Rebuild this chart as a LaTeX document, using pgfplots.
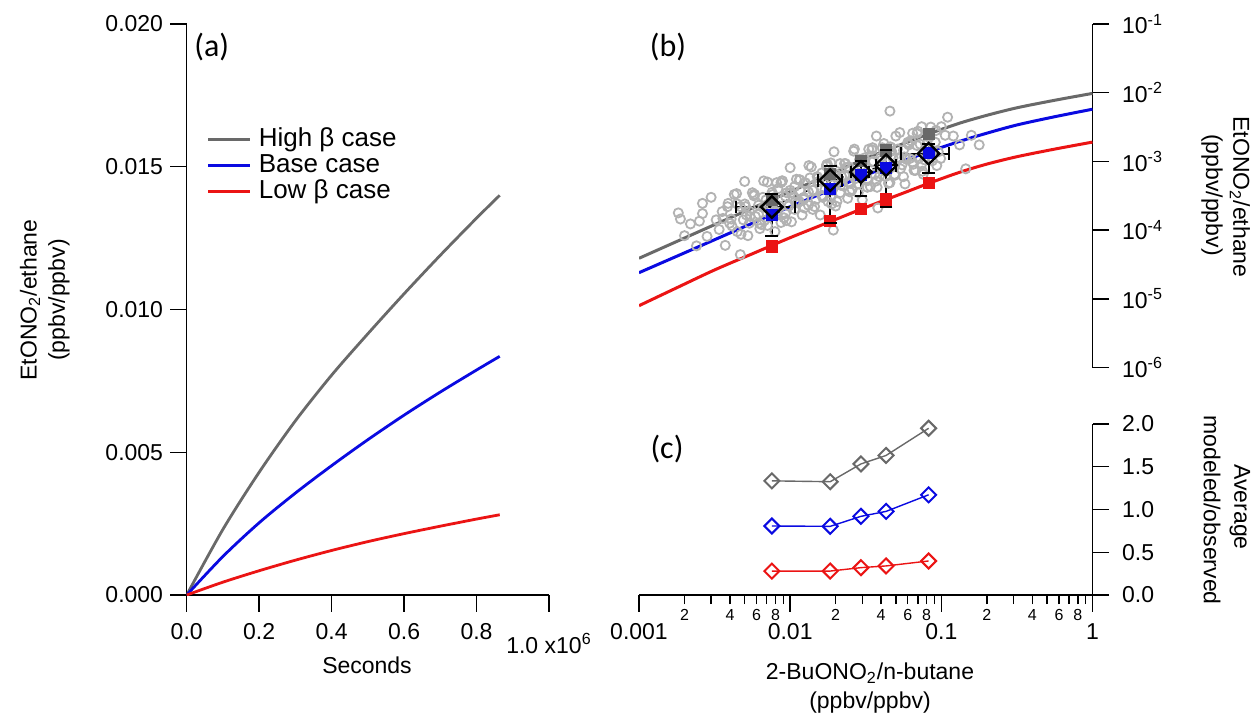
\documentclass[border=0pt]{standalone}
\usepackage{pgfplots}
\pgfplotsset{compat=1.18}
\usepackage{fontspec}
\setmainfont{Liberation Sans}
\newfontfamily\calib{Carlito}
\definecolor{cgray}{RGB}{105,105,105}
\definecolor{cblue}{RGB}{10,10,225}
\definecolor{cred}{RGB}{235,20,20}
\definecolor{cscat}{RGB}{178,178,178}
\pgfplotsset{
  every axis/.append style={
    scale only axis,
    font=\fontsize{11.5}{14}\selectfont,
    tick align=outside,
    major tick length=8.3pt,
    minor tick length=4.5pt,
    tick style={black, line width=0.7pt},
    axis line style={-, black, line width=0.7pt},
    tick label style={font=\fontsize{11.5}{14}\selectfont},
    scaled x ticks=false, scaled y ticks=false,
  }
}
\tikzset{lab/.style={font=\fontsize{11.5}{14}\selectfont}}
\begin{document}
\begin{tikzpicture}
\useasboundingbox (0,0) rectangle (626pt,359.5pt);
% ---------------- panel (a)
\begin{axis}[
  at={(93.35pt,62pt)}, anchor=south west,
  width=181.15pt, height=285.5pt,
  xmin=0, xmax=1, ymin=0, ymax=0.02,
  axis x line*=bottom, axis y line*=left,
  xtick={0,0.2,0.4,0.6,0.8},
  xticklabels={0.0,0.2,0.4,0.6,0.8},
  xticklabel style={yshift=-2.5pt},
  extra x ticks={1}, extra x tick labels={1.0 x10\textsuperscript{6}},
  extra x tick style={tick label style={yshift=-5pt}},
  ytick={0,0.005,0.01,0.015,0.02},
  yticklabels={0.000,0.005,0.010,0.015,0.020},
  legend style={at={(axis description cs:0.055,0.82)}, anchor=north west,
    draw=none, fill=none, inner sep=0pt, row sep=0.5pt,
    nodes={inner sep=0.5pt, text height=9pt, text depth=2.5pt},
    font=\fontsize{13}{15}\selectfont},
  legend cell align=left,
  legend image code/.code={\draw[#1] (0pt,0pt) -- (21pt,0pt); \path (24pt,0pt);},
]
\addplot[cgray, line width=1.4pt, smooth] coordinates {
 (0,0) (0.1,0.0023) (0.2,0.0043) (0.3,0.0061) (0.4,0.0077) (0.5,0.00915)
 (0.6,0.01055) (0.7,0.0119) (0.8,0.0132) (0.864,0.0140)};
\addlegendentry{High β case}
\addplot[cblue, line width=1.4pt, smooth] coordinates {
 (0,0) (0.1,0.00135) (0.2,0.00253) (0.3,0.00357) (0.4,0.00453) (0.5,0.00544)
 (0.6,0.0063) (0.7,0.00711) (0.8,0.00788) (0.864,0.00836)};
\addlegendentry{Base case}
\addplot[cred, line width=1.4pt, smooth] coordinates {
 (0,0) (0.1,0.00045) (0.2,0.00085) (0.3,0.00122) (0.4,0.00156) (0.5,0.00187)
 (0.6,0.00215) (0.7,0.00241) (0.8,0.00266) (0.864,0.00281)};
\addlegendentry{Low β case}
\end{axis}
% ---------------- panel (b)
\begin{axis}[
  at={(319.5pt,175.75pt)}, anchor=south west,
  width=226.75pt, height=171.75pt,
  xmode=log, ymode=log,
  xmin=0.001, xmax=1, ymin=1e-6, ymax=1e-1,
  axis x line=none, axis y line*=right,
  ytick={1e-6,1e-5,1e-4,1e-3,1e-2,1e-1},
  yticklabels={10\textsuperscript{-6},10\textsuperscript{-5},10\textsuperscript{-4},10\textsuperscript{-3},10\textsuperscript{-2},10\textsuperscript{-1}},
  yticklabel style={xshift=3pt},
  yminorticks=false,
]
\addplot[only marks, mark=o, mark size=2.3pt, cscat, mark options={line width=0.9pt}] table {
0.00182 1.78e-4
0.0020 8.3e-5
0.00219 1.23e-4
0.0024 5.9e-5
0.00263 1.74e-4
0.00282 8.1e-5
0.0030 3.0e-4
0.00324 1.41e-4
0.00339 1.02e-4
0.00355 1.86e-4
0.00372 6.0e-5
0.00389 2.45e-4
0.00407 1.45e-4
0.00427 3.3e-4
0.00447 9.5e-5
0.00468 2.2e-4
0.0049 1.41e-4
0.0050 5.1e-4
0.00525 8.3e-5
0.00537 1.9e-4
0.00562 3.5e-4
0.00589 1.58e-4
0.00617 2.3e-4
0.0063 1.05e-4
0.0066 3.0e-4
0.00676 1.38e-4
0.00708 5.0e-4
0.00724 2.3e-4
0.00759 1.66e-4
0.00776 2.95e-4
0.00794 9.5e-5
0.0083 4.0e-4
0.0085 2.24e-4
0.0089 5.2e-4
0.0091 1.51e-4
0.0095 3.5e-4
0.0098 2.24e-4
0.0100 8.1e-4
0.0102 1.32e-4
0.0105 3.0e-4
0.0110 5.5e-4
0.0112 2.5e-4
0.0117 3.7e-4
0.0120 1.66e-4
0.0126 4.9e-4
0.0132 2.3e-4
0.0138 8.3e-4
0.0141 3.8e-4
0.0148 2.8e-4
0.0151 5.0e-4
0.0158 1.66e-4
0.0162 6.8e-4
0.0170 3.9e-4
0.0174 8.9e-4
0.0178 2.6e-4
0.0182 5.9e-4
0.0190 3.8e-4
0.0195 1.38e-3
0.0200 2.24e-4
0.0209 5.2e-4
0.0214 9.3e-4
0.0224 4.4e-4
0.0229 6.3e-4
0.0240 2.9e-4
0.0245 8.3e-4
0.0257 3.9e-4
0.0263 1.41e-3
0.0275 6.5e-4
0.0282 4.7e-4
0.0295 8.7e-4
0.0300 2.75e-4
0.0309 1.12e-3
0.0316 6.5e-4
0.0331 1.51e-3
0.0339 4.3e-4
0.0355 1.0e-3
0.0363 6.5e-4
0.0372 2.34e-3
0.0380 2.1e-4
0.0398 8.7e-4
0.0407 1.58e-3
0.0427 7.2e-4
0.0437 1.05e-3
0.0457 4.9e-4
0.0468 1.41e-3
0.0490 6.5e-4
0.0500 2.34e-3
0.0525 1.1e-3
0.0537 7.8e-4
0.0562 1.45e-3
0.0575 4.7e-4
0.0600 1.9e-3
0.0617 1.1e-3
0.0646 2.57e-3
0.0660 7.4e-4
0.0692 1.7e-3
0.0708 1.1e-3
0.0741 3.2e-3
0.0759 6.5e-4
0.0794 1.51e-3
0.0832 2.24e-3
0.0871 1.02e-3
0.0912 1.9e-3
0.0955 1.38e-3
0.100 3.2e-3
0.110 4.4e-3
0.120 2.34e-3
0.132 1.74e-3
0.145 7.8e-4
0.158 2.4e-3
0.178 1.74e-3
0.0457 5.4e-3
0.00263 2.45e-4
0.00188 1.45e-4
0.00468 4.4e-5
0.0193 1.0e-4
0.00513 1.66e-4
0.00575 3.16e-4
0.00646 1.2e-4
0.00692 2.75e-4
0.00741 1.62e-4
0.00813 4.9e-4
0.0087 1.29e-4
0.0093 3.1e-4
0.0107 4.3e-4
0.0115 2.6e-4
0.0123 3.0e-4
0.0135 5.75e-4
0.0145 2.2e-4
0.0155 5.1e-4
0.0166 3.1e-4
0.0186 9.5e-4
0.0204 2.6e-4
0.0219 6.0e-4
0.0234 8.1e-4
0.0251 4.8e-4
0.0269 5.6e-4
0.0288 1.07e-3
0.0324 4.2e-4
0.0347 9.8e-4
0.0389 6.0e-4
0.0417 1.82e-3
0.0447 4.8e-4
0.0479 1.12e-3
0.0513 1.51e-3
0.0550 8.9e-4
0.0589 1.07e-3
0.0630 2.0e-3
0.0676 7.4e-4
0.0724 1.78e-3
0.0776 1.05e-3
0.0851 3.16e-3
0.0933 8.7e-4
0.00447 2.4e-4
0.00398 1.26e-4
0.00251 1.35e-4
0.00501 2.4e-4
0.00537 1.26e-4
0.00575 3.3e-4
0.00617 1.7e-4
0.0066 2.14e-4
0.00708 1.17e-4
0.00759 3.55e-4
0.00813 1.86e-4
0.0087 4.9e-4
0.0093 1.74e-4
0.0100 3.8e-4
0.0107 2.0e-4
0.0115 5.4e-4
0.0123 2.8e-4
0.0132 3.6e-4
0.0141 2.0e-4
0.0151 6.0e-4
0.0162 3.2e-4
0.0174 8.5e-4
0.0186 3.0e-4
0.0200 6.6e-4
0.0214 3.5e-4
0.0229 9.3e-4
0.0245 4.9e-4
0.0263 6.3e-4
0.0282 3.5e-4
0.0302 1.05e-3
0.0324 5.6e-4
0.0347 1.48e-3
0.0372 5.2e-4
0.0398 1.15e-3
0.0427 6.0e-4
0.0457 1.62e-3
0.0490 8.5e-4
0.0525 1.1e-3
0.0562 6.0e-4
0.0603 1.82e-3
0.0646 9.8e-4
0.0692 2.57e-3
0.0741 9.1e-4
0.00359 1.48e-4
0.00385 2.19e-4
0.00412 1.15e-4
0.00442 3.4e-4
0.00473 8.7e-5
0.00507 2.2e-4
0.00543 1.58e-4
0.00582 3.3e-4
0.00624 1.26e-4
0.00668 5.2e-4
0.00716 2.25e-4
0.00767 3.3e-4
0.00822 1.74e-4
0.00881 5.2e-4
0.00944 1.38e-4
0.0101 3.5e-4
0.0108 2.57e-4
0.0116 5.4e-4
0.0124 2.1e-4
0.0133 8.7e-4
0.0143 3.84e-4
0.0153 5.75e-4
0.0164 3.0e-4
0.0176 9.1e-4
0.0188 2.4e-4
0.0202 6.0e-4
0.0216 4.5e-4
0.0232 9.3e-4
0.0248 3.6e-4
0.0266 1.51e-3
0.0285 6.7e-4
0.0305 1.0e-3
0.0327 5.25e-4
0.0351 1.58e-3
0.0376 4.2e-4
0.0403 1.05e-3
0.0432 7.8e-4
0.0462 1.62e-3
0.0495 6.3e-4
0.0531 2.63e-3
0.0569 1.16e-3
0.0610 1.74e-3
0.0653 9.1e-4
0.0700 2.75e-3
0.0750 7.2e-4
0.0804 1.82e-3
0.0861 1.35e-3
0.0923 2.82e-3
0.0989 1.1e-3
0.106 2.4e-3
};
\addplot[cgray, line width=1.5pt, smooth] coordinates {
 (0.001,3.89e-5) (0.00178,6.84e-5) (0.00316,1.20e-4) (0.00562,2.09e-4)
 (0.01,3.63e-4) (0.0178,6.31e-4) (0.0316,1.10e-3) (0.0562,1.82e-3)
 (0.0824,2.51e-3) (0.1315,3.59e-3) (0.1995,4.68e-3) (0.316,6.03e-3)
 (0.562,7.76e-3) (1,9.77e-3)};
\addplot[cblue, line width=1.5pt, smooth] coordinates {
 (0.001,2.40e-5) (0.00178,4.17e-5) (0.00316,7.24e-5) (0.00562,1.26e-4)
 (0.01,2.19e-4) (0.0178,3.72e-4) (0.0316,6.31e-4) (0.0562,1.02e-3)
 (0.0824,1.38e-3) (0.1315,1.95e-3) (0.1995,2.57e-3) (0.316,3.39e-3)
 (0.562,4.47e-3) (1,5.75e-3)};
\addplot[cred, line width=1.5pt, smooth] coordinates {
 (0.001,7.94e-6) (0.00178,1.45e-5) (0.00316,2.63e-5) (0.00562,4.52e-5)
 (0.01,7.76e-5) (0.0178,1.29e-4) (0.0316,2.14e-4) (0.0562,3.47e-4)
 (0.0824,4.79e-4) (0.1315,6.92e-4) (0.1995,9.12e-4) (0.316,1.17e-3)
 (0.562,1.51e-3) (1,1.91e-3)};
% modelled points
\addplot[only marks, mark=square*, mark size=2.8pt, cgray] coordinates {
 (0.00757,2.75e-4) (0.0184,6.5e-4) (0.0294,1.02e-3) (0.0431,1.45e-3) (0.0824,2.51e-3)};
\addplot[only marks, mark=square*, mark size=2.8pt, cred] coordinates {
 (0.00757,5.8e-5) (0.0184,1.35e-4) (0.0294,2.06e-4) (0.0431,2.79e-4) (0.0824,4.86e-4)};
\addplot[only marks, mark=square*, mark size=2.8pt, cblue] coordinates {
 (0.00757,1.66e-4) (0.0184,4.03e-4) (0.0294,6.31e-4) (0.0431,7.94e-4) (0.0824,1.33e-3)};
% observed: dashed line, error bars, diamonds
\addplot[black, dashed, line width=0.7pt] coordinates {
 (0.00757,2.17e-4) (0.0184,5.3e-4) (0.0294,7.0e-4) (0.0431,8.8e-4) (0.0824,1.30e-3)};
\addplot[black, line width=1pt, mark=-, mark size=3.2pt, mark options={solid}] coordinates {(0.00757,8.1e-5) (0.00757,3.4e-4)};
\addplot[black, line width=1pt, mark=-, mark size=3.2pt, mark options={solid}] coordinates {(0.0184,1.26e-4) (0.0184,8.5e-4)};
\addplot[black, line width=1pt, mark=-, mark size=3.2pt, mark options={solid}] coordinates {(0.0294,3.1e-4) (0.0294,1.02e-3)};
\addplot[black, line width=1pt, mark=-, mark size=3.2pt, mark options={solid}] coordinates {(0.0431,2.2e-4) (0.0431,1.48e-3)};
\addplot[black, line width=1pt, mark=-, mark size=3.2pt, mark options={solid}] coordinates {(0.0824,6.8e-4) (0.0824,1.82e-3)};
\addplot[black, line width=1pt, mark=|, mark size=3.2pt, mark options={solid}] coordinates {(0.0044,2.17e-4) (0.0107,2.17e-4)};
\addplot[black, line width=1pt, mark=|, mark size=3.2pt, mark options={solid}] coordinates {(0.0152,5.3e-4) (0.0221,5.3e-4)};
\addplot[black, line width=1pt, mark=|, mark size=3.2pt, mark options={solid}] coordinates {(0.0252,7.0e-4) (0.0334,7.0e-4)};
\addplot[black, line width=1pt, mark=|, mark size=3.2pt, mark options={solid}] coordinates {(0.037,8.8e-4) (0.050,8.8e-4)};
\addplot[black, line width=1pt, mark=|, mark size=3.2pt, mark options={solid}] coordinates {(0.054,1.30e-3) (0.112,1.30e-3)};
\addplot[only marks, black, mark=square, mark size=3.8pt, mark options={rotate=45, line width=1.2pt}] coordinates {
 (0.00757,2.17e-4) (0.0184,5.3e-4) (0.0294,7.0e-4) (0.0431,8.8e-4) (0.0824,1.30e-3)};
\end{axis}
% ---------------- panel (c)
\begin{axis}[
  at={(319.5pt,62pt)}, anchor=south west,
  width=226.75pt, height=85.5pt,
  xmode=log, xmin=0.001, xmax=1, ymin=0, ymax=2,
  axis x line*=bottom, axis y line*=right,
  xtick={0.001,0.01,0.1,1}, xticklabels={0.001,0.01,0.1,1},
  xticklabel style={yshift=-2.5pt},
  minor xtick={0.002,0.003,0.004,0.005,0.006,0.007,0.008,0.009,
               0.02,0.03,0.04,0.05,0.06,0.07,0.08,0.09,
               0.2,0.3,0.4,0.5,0.6,0.7,0.8,0.9},
  extra x ticks={0.002,0.004,0.006,0.008,0.02,0.04,0.06,0.08,0.2,0.4,0.6,0.8},
  extra x tick labels={2,4,6,8,2,4,6,8,2,4,6,8},
  extra x tick style={major tick length=4.5pt, tick label style={font=\fontsize{8}{9}\selectfont, yshift=3.5pt}},
  ytick={0,0.5,1,1.5,2}, yticklabels={0.0,0.5,1.0,1.5,2.0},
  yticklabel style={xshift=3pt},
]
\addplot[cgray, line width=0.7pt, mark=square, mark size=2.65pt, mark options={rotate=45, line width=1pt}] coordinates {
 (0.00757,1.335) (0.0184,1.325) (0.0294,1.533) (0.0431,1.632) (0.0824,1.95)};
\addplot[cblue, line width=0.7pt, mark=square, mark size=2.65pt, mark options={rotate=45, line width=1pt}] coordinates {
 (0.00757,0.807) (0.0184,0.803) (0.0294,0.92) (0.0431,0.978) (0.0824,1.172)};
\addplot[cred, line width=0.7pt, mark=square, mark size=2.65pt, mark options={rotate=45, line width=1pt}] coordinates {
 (0.00757,0.28) (0.0184,0.28) (0.0294,0.32) (0.0431,0.34) (0.0824,0.398)};
\end{axis}
% ---------------- labels
\node[lab, rotate=90] at (15pt,209.5pt) {EtONO\textsubscript{2}/ethane};
\node[lab, rotate=90] at (29.5pt,209.5pt) {(ppbv/ppbv)};
\node[lab] at (183.5pt,27pt) {Seconds};
\node[lab, rotate=-90] at (620pt,261pt) {EtONO\textsubscript{2}/ethane};
\node[lab, rotate=-90] at (606pt,262pt) {(ppbv/ppbv)};
\node[lab, rotate=-90] at (620pt,106pt) {Average};
\node[lab, rotate=-90] at (606pt,104.5pt) {modeled/observed};
\node[lab] at (435pt,23pt) {2-BuONO\textsubscript{2}/n-butane};
\node[lab] at (435pt,8pt) {(ppbv/ppbv)};
\node[font=\calib\fontsize{16}{18}\selectfont] at (105.85pt,336.15pt) {(a)};
\node[font=\calib\fontsize{16}{18}\selectfont] at (334pt,336pt) {(b)};
\node[font=\calib\fontsize{16}{18}\selectfont] at (333.5pt,135pt) {(c)};
\end{tikzpicture}
\end{document}
